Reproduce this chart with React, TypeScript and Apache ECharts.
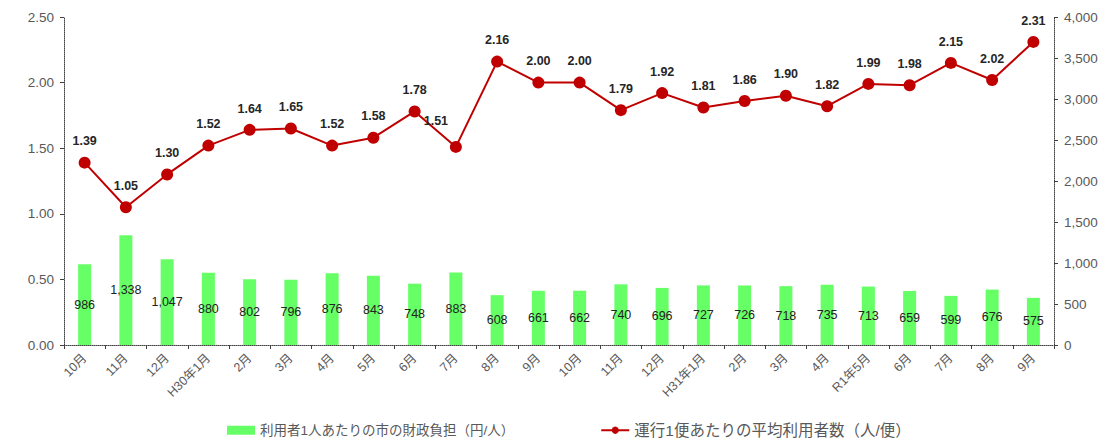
import React, { useEffect, useRef } from "react";
import * as echarts from "echarts";

const categories = [
  "10月", "11月", "12月", "H30年1月", "2月", "3月", "4月", "5月", "6月", "7月", "8月", "9月",
  "10月", "11月", "12月", "H31年1月", "2月", "3月", "4月", "R1年5月", "6月", "7月", "8月", "9月",
];
const burdenPerUser = [
  986, 1338, 1047, 880, 802, 796, 876, 843, 748, 883, 608, 661,
  662, 740, 696, 727, 726, 718, 735, 713, 659, 599, 676, 575,
];
const usersPerTrip = [
  1.39, 1.05, 1.3, 1.52, 1.64, 1.65, 1.52, 1.58, 1.78, 1.51, 2.16, 2.0,
  2.0, 1.79, 1.92, 1.81, 1.86, 1.9, 1.82, 1.99, 1.98, 2.15, 2.02, 2.31,
];
const barName = "利用者1人あたりの市の財政負担（円/人）";
const lineName = "運行1便あたりの平均利用者数（人/便）";

const FONT = "'Liberation Sans', 'Noto Sans CJK JP', sans-serif";
const GRAY = "#595959";

export default function App() {
  const ref = useRef<HTMLDivElement>(null);
  useEffect(() => {
    if (!ref.current) return;
    const chart = echarts.init(ref.current, undefined, { renderer: "svg" });
    const axisLine = { show: true, lineStyle: { color: "#404040", type: "dotted" as const, width: 1 } };
    chart.setOption({
      animation: false,
      textStyle: { fontFamily: FONT },
      grid: { left: 64, right: 53, top: 17, bottom: 101 },
      legend: {
        bottom: 3,
        left: 222,
        itemGap: 86,
        itemWidth: 28,
        itemHeight: 9,
        textStyle: { color: GRAY, fontSize: 13.5, fontFamily: FONT },
        data: [
          { name: barName, icon: "rect", textStyle: { fontSize: 13.5 } },
          { name: lineName, textStyle: { fontSize: 15.5 } },
        ],
      },
      xAxis: {
        type: "category",
        data: categories,
        boundaryGap: true,
        axisLine,
        axisTick: { show: true, alignWithLabel: false, length: 4, lineStyle: { color: "#404040" } },
        axisLabel: { rotate: 45, color: GRAY, fontSize: 12.5, interval: 0, margin: 11, fontFamily: FONT },
      },
      yAxis: [
        {
          type: "value",
          min: 0,
          max: 2.5,
          interval: 0.5,
          position: "left",
          splitLine: { show: false },
          axisLine,
          axisTick: { show: true, length: 4, lineStyle: { color: "#404040" } },
          axisLabel: { color: GRAY, fontSize: 13.5, margin: 10, formatter: (v: number) => v.toFixed(2) },
        },
        {
          type: "value",
          min: 0,
          max: 4000,
          interval: 500,
          position: "right",
          splitLine: { show: false },
          axisLine,
          axisTick: { show: true, length: 4, lineStyle: { color: "#404040" } },
          axisLabel: {
            color: GRAY,
            fontSize: 13.5,
            margin: 10,
            formatter: (v: number) => v.toLocaleString("en-US"),
          },
        },
      ],
      series: [
        {
          name: barName,
          type: "bar",
          yAxisIndex: 1,
          barWidth: 13,
          data: burdenPerUser,
          itemStyle: { color: "#66ff66" },
          label: {
            show: true,
            position: "inside",
            color: "#222",
            fontSize: 12.5,
            formatter: (p: any) => Number(p.value).toLocaleString("en-US"),
          },
          z: 1,
        },
        {
          name: lineName,
          type: "line",
          yAxisIndex: 0,
          data: usersPerTrip.map((v, i) =>
            i === 9 ? { value: v, label: { offset: [-20, -5] } } : v
          ),
          symbol: "circle",
          symbolSize: 12,
          lineStyle: { color: "#c00000", width: 2 },
          itemStyle: { color: "#c00000" },
          label: {
            show: true,
            position: "top",
            distance: 9,
            color: "#262626",
            fontSize: 12.5,
            fontWeight: "bold",
            formatter: (p: any) => Number(p.value).toFixed(2),
          },
          z: 3,
        },
      ],
    });
    return () => chart.dispose();
  }, []);
  return (
    <div
      ref={ref}
      style={{ position: "fixed", left: 0, top: 0, width: 1107, height: 446, background: "#fff" }}
    />
  );
}
